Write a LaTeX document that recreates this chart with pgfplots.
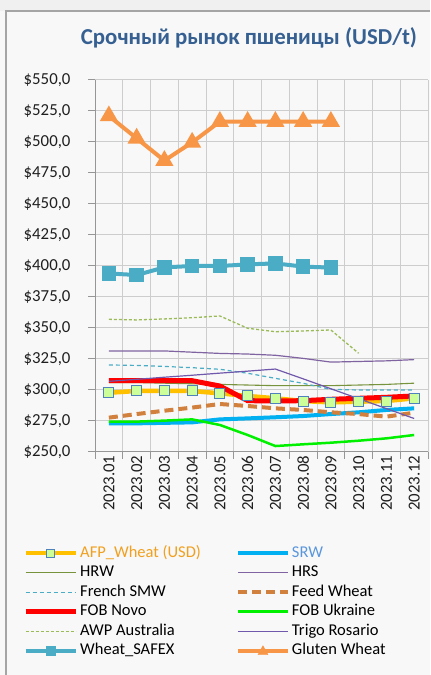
\documentclass[border=0pt]{standalone}
\usepackage{fontspec}
\setmainfont{Carlito}
\usepackage{pgfplots}
\pgfplotsset{compat=1.18}
\definecolor{bgc}{RGB}{248,248,248}
\definecolor{topc}{RGB}{240,240,240}
\definecolor{framec}{RGB}{165,165,165}
\definecolor{gridc}{RGB}{205,205,205}
\definecolor{axisc}{RGB}{150,150,150}
\definecolor{titlec}{RGB}{54,96,146}
\definecolor{afpline}{RGB}{255,192,0}
\definecolor{afpfill}{RGB}{204,255,153}
\definecolor{afpedge}{RGB}{79,129,189}
\definecolor{afptext}{RGB}{240,160,30}
\definecolor{srw}{RGB}{0,176,240}
\definecolor{srwtext}{RGB}{90,150,220}
\definecolor{hrw}{RGB}{119,147,60}
\definecolor{hrs}{RGB}{128,100,162}
\definecolor{french}{RGB}{75,172,198}
\definecolor{feed}{RGB}{209,128,62}
\definecolor{novo}{RGB}{255,0,0}
\definecolor{ukr}{RGB}{0,240,0}
\definecolor{awp}{RGB}{155,187,89}
\definecolor{trigo}{RGB}{112,88,172}
\definecolor{safex}{RGB}{75,172,198}
\definecolor{gluten}{RGB}{247,150,70}
\begin{document}
\begin{tikzpicture}[x=1bp,y=1bp]
\useasboundingbox (0,0) rectangle (430,675);
\fill[bgc] (0,0) rectangle (430,675);
\fill[topc] (0,664) rectangle (430,675);
\draw[framec,line width=2bp] (6,0) -- (6,664) -- (430,664);
\begin{axis}[
  at={(95bp,223bp)}, anchor=south west,
  scale only axis, width=333bp, height=372bp,
  xmin=0.5, xmax=12.5, ymin=250, ymax=550,
  axis x line*=bottom, axis y line*=left,
  axis line style={axisc, line width=1bp},
  tick align=outside,
  major tick length=7bp,
  tick style={axisc, line width=1bp},
  xtick={0.5,1.5,...,12.5}, xticklabel=\empty,
  xmajorgrids, ymajorgrids,
  grid style={gridc, line width=1bp},
  extra x ticks={1,2,...,12},
  extra x tick labels={2023.01,2023.02,2023.03,2023.04,2023.05,2023.06,2023.07,2023.08,2023.09,2023.10,2023.11,2023.12},
  extra x tick style={major tick length=0pt, grid=none},
  xticklabel style={rotate=90, anchor=east, yshift=0bp},
  ytick={250,275,...,550},
  yticklabel style={xshift=-14bp},
  /pgf/number format/assume math mode=true,
  yticklabel={\$\pgfmathprintnumber[fixed,fixed zerofill,precision=1,use comma]{\tick}},
  tick label style={font=\fontsize{16.8bp}{19bp}\selectfont, text=black!88},
  legend columns=2,
  legend cell align=left,
  legend style={at={(-0.2162,-0.2454)}, anchor=north west, draw=none, fill=none,
    inner sep=0pt, row sep=0pt,
    font=\fontsize{16.5bp}{19bp}\selectfont,
    nodes={inner xsep=2bp, inner ysep=2bp, text height=12bp, text depth=3.5bp},
    /tikz/every even column/.append style={column sep=33bp}},
  legend image code/.code={\draw[#1] (0bp,0bp) -- (50bp,0bp);},
]
% legend images
\addlegendimage{legend image code/.code={
  \draw[afpline, line width=4.5bp] (0bp,0bp) -- (50bp,0bp);
  \filldraw[fill=afpfill, draw=afpedge, line width=1bp] (21bp,-4bp) rectangle (29bp,4bp);}}
\addlegendentry{\textcolor{afptext}{AFP\_Wheat (USD)}}
\addlegendimage{srw, line width=4bp}
\addlegendentry{\textcolor{srwtext}{SRW}}
\addlegendimage{hrw, line width=1.1bp}
\addlegendentry{HRW}
\addlegendimage{hrs, line width=1.2bp}
\addlegendentry{HRS}
\addlegendimage{french, line width=1.2bp, dash pattern=on 4bp off 3bp}
\addlegendentry{French SMW}
\addlegendimage{feed, line width=4bp, dash pattern=on 9bp off 5bp}
\addlegendentry{Feed Wheat}
\addlegendimage{novo, line width=5bp}
\addlegendentry{FOB Novo}
\addlegendimage{ukr, line width=2.5bp}
\addlegendentry{FOB Ukraine}
\addlegendimage{awp, line width=1.3bp, dash pattern=on 3bp off 2bp}
\addlegendentry{AWP Australia}
\addlegendimage{trigo, line width=1.2bp}
\addlegendentry{Trigo Rosario}
\addlegendimage{legend image code/.code={
  \draw[safex, line width=4bp] (0bp,0bp) -- (50bp,0bp);
  \fill[safex] (20.5bp,-4.5bp) rectangle (29.5bp,4.5bp);}}
\addlegendentry{Wheat\_SAFEX}
\addlegendimage{legend image code/.code={
  \draw[gluten, line width=4bp] (0bp,0bp) -- (50bp,0bp);
  \fill[gluten] (20bp,-4bp) -- (30bp,-4bp) -- (25bp,5bp) -- cycle;}}
\addlegendentry{Gluten Wheat}
% data
\addplot[forget plot, afpline, line width=4.5bp] coordinates {
(1,297.8)(2,299.2)(3,299.2)(4,299.2)(5,297.3)(6,295.2)(7,293.3)(8,291.1)(9,290.0)(10,290.6)(11,291.1)(12,293.3)};
\addplot[forget plot, srw, line width=4bp] coordinates {
(1,273.1)(2,273.1)(3,273.5)(4,273.9)(5,276.3)(6,277.1)(7,278.0)(8,279.0)(9,280.6)(10,282.0)(11,283.9)(12,285.2)};
\addplot[forget plot, hrw, line width=1.1bp] coordinates {
(1,306)(2,306)(3,305.5)(4,305)(5,304.5)(6,304)(7,303.5)(8,303.5)(9,303.5)(10,304)(11,304.5)(12,305.5)};
\addplot[forget plot, hrs, line width=1.2bp] coordinates {
(1,331.5)(2,331.5)(3,331.5)(4,330.5)(5,329.5)(6,329)(7,328)(8,325.5)(9,322.5)(10,323)(11,323.5)(12,324.5)};
\addplot[forget plot, french, line width=1.2bp, dash pattern=on 4bp off 3bp] coordinates {
(1,320.2)(2,319.8)(3,319)(4,318)(5,316.7)(6,313.5)(7,309.4)(8,305.4)(9,300.5)(10,300)(11,300)(12,300)};
\addplot[forget plot, feed, line width=4bp, dash pattern=on 9bp off 5bp] coordinates {
(1,277.7)(2,280.6)(3,283.3)(4,285.8)(5,288.7)(6,287.1)(7,285.2)(8,283.9)(9,282)(10,280.6)(11,278.5)(12,281.7)};
\addplot[forget plot, novo, line width=5bp] coordinates {
(1,307.5)(2,307.5)(3,307.5)(4,307.5)(5,303.2)(6,291.4)(7,291.1)(8,291.4)(9,292.5)(10,293.3)(11,294.1)(12,295.2)};
\addplot[forget plot, ukr, line width=2.5bp] coordinates {
(1,274.5)(2,274.5)(3,275.3)(4,276.3)(5,271.8)(6,263.7)(7,254.8)(8,256.2)(9,257.5)(10,259.1)(11,261)(12,263.7)};
\addplot[forget plot, awp, line width=1.3bp, dash pattern=on 3bp off 2bp] coordinates {
(1,357)(2,356.5)(3,357.3)(4,358.3)(5,359.7)(6,349.8)(7,347)(8,347.6)(9,348.4)(10,329.6)};
\addplot[forget plot, trigo, line width=1.2bp] coordinates {
(1,307)(2,308.6)(3,310.3)(4,311.9)(5,313.6)(6,315.2)(7,316.9)(8,309)(9,301)(10,293)(11,285)(12,277)};
\addplot[forget plot, safex, line width=4bp, mark=square*, mark size=5.2bp, mark options={fill=safex, draw=safex}] coordinates {
(1,394)(2,392.7)(3,398.9)(4,400)(5,400)(6,401.3)(7,402.1)(8,399.5)(9,398.7)};
\addplot[forget plot, gluten, line width=4bp, mark=triangle*, mark size=6.5bp, mark options={fill=gluten, draw=gluten}] coordinates {
(1,521)(2,503)(3,485)(4,499.7)(5,516.5)(6,516.5)(7,516.5)(8,516.5)(9,516.5)};
\addplot[only marks, forget plot, mark=square*, mark size=5bp, mark options={fill=afpfill, draw=afpedge, line width=1bp}] coordinates {
(1,297.8)(2,299.2)(3,299.2)(4,299.2)(5,297.3)(6,295.2)(7,293.3)(8,291.1)(9,290.0)(10,290.6)(11,291.1)(12,293.3)};
\end{axis}
\node[anchor=base, font=\fontsize{22.8bp}{26bp}\selectfont\bfseries, text=titlec] at (249,630) {Срочный рынок пшеницы (USD/t)};
\end{tikzpicture}
\end{document}
